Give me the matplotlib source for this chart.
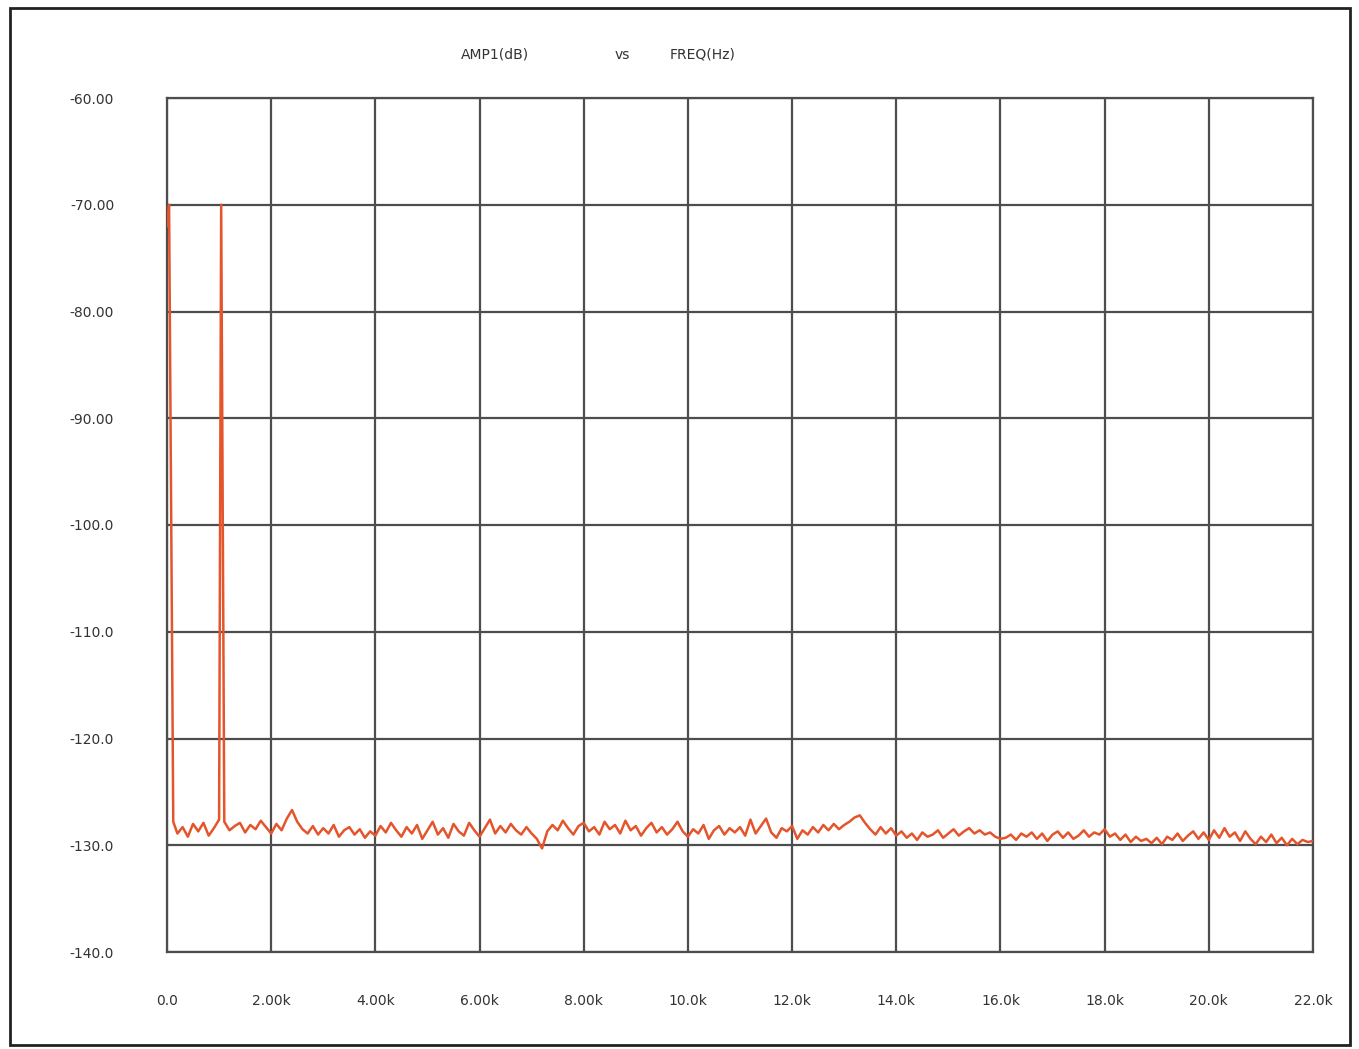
import numpy as np
import matplotlib
matplotlib.use("Agg")
import matplotlib.pyplot as plt
from matplotlib.patches import Rectangle

# ---- data ----
noise_start_hz = 200
noise_step_hz = 100
noise_db = [
    -128.9, -128.3, -129.2, -128.0, -128.7, -127.9, -129.1, -128.4,
    -127.6, -127.8, -128.6, -128.2, -127.9, -128.8, -128.1, -128.5, -127.7, -128.3,
    -128.9, -128.0, -128.6, -127.5, -126.7, -127.8, -128.5, -128.9, -128.2, -129.0,
    -128.4, -128.9, -128.1, -129.2, -128.6, -128.3, -129.0, -128.5, -129.3, -128.7,
    -129.1, -128.2, -128.8, -127.9, -128.6, -129.2, -128.3, -128.9, -128.1, -129.4,
    -128.6, -127.8, -129.0, -128.4, -129.3, -128.0, -128.7, -129.1, -127.9, -128.6,
    -129.2, -128.4, -127.6, -128.9, -128.2, -128.8, -128.0, -128.6, -129.0, -128.3,
    -128.9, -129.4, -130.3, -128.7, -128.1, -128.6, -127.7, -128.4, -129.0, -128.2,
    -127.9, -128.7, -128.3, -129.0, -127.8, -128.5, -128.1, -128.9, -127.7, -128.6,
    -128.2, -129.1, -128.4, -127.9, -128.8, -128.3, -129.0, -128.5, -127.8, -128.7,
    -129.2, -128.5, -128.9, -128.1, -129.4, -128.6, -128.2, -129.0, -128.4, -128.8,
    -128.3, -129.1, -127.6, -128.9, -128.2, -127.5, -128.8, -129.3, -128.4, -128.7,
    -128.2, -129.4, -128.6, -129.0, -128.3, -128.8, -128.1, -128.6, -128.0, -128.5,
    -128.1, -127.8, -127.4, -127.2, -127.9, -128.5, -129.0, -128.3, -128.9, -128.4,
    -129.1, -128.7, -129.3, -128.9, -129.5, -128.8, -129.2, -129.0, -128.6, -129.3,
    -128.9, -128.5, -129.1, -128.7, -128.4, -128.9, -128.6, -129.0, -128.8, -129.2,
    -129.4, -129.3, -129.0, -129.5, -128.9, -129.2, -128.8, -129.4, -128.9, -129.6,
    -129.0, -128.7, -129.3, -128.8, -129.4, -129.1, -128.6, -129.2, -128.8, -129.0,
    -128.5, -129.2, -128.9, -129.5, -129.0, -129.7, -129.2, -129.6, -129.4, -129.8,
    -129.3, -129.9, -129.2, -129.5, -128.9, -129.6, -129.1, -128.7, -129.4, -128.8,
    -129.5, -128.6, -129.3, -128.4, -129.2, -128.8, -129.6, -128.7, -129.4, -129.9,
    -129.2, -129.7, -129.0, -129.8, -129.3, -130.0, -129.4, -129.9, -129.5, -129.7,
    -129.6,
]
peak_freq_hz = [0, 40, 120, 1040]
peak_db = [-72.0, -70.0, -127.8, -70.0]

y_ticks = [-60, -70, -80, -90, -100, -110, -120, -130, -140]
y_labels = ["-60.00", "-70.00", "-80.00", "-90.00", "-100.0", "-110.0",
            "-120.0", "-130.0", "-140.0"]
x_ticks = [0, 2000, 4000, 6000, 8000, 10000, 12000, 14000, 16000, 18000, 20000, 22000]
x_labels = ["0.0", "2.00k", "4.00k", "6.00k", "8.00k", "10.0k", "12.0k",
            "14.0k", "16.0k", "18.0k", "20.0k", "22.0k"]

# ---- build series ----
noise_freq = noise_start_hz + noise_step_hz * np.arange(len(noise_db))
freq = np.concatenate([noise_freq, np.array(peak_freq_hz)])
amp = np.concatenate([np.array(noise_db), np.array(peak_db)])
order = np.argsort(freq, kind="stable")
freq, amp = freq[order], amp[order]

# ---- figure ----
fig = plt.figure(figsize=(13.59, 10.49), dpi=100)
fig.patch.set_facecolor("white")
fig.patches.append(Rectangle((10 / 1359, 1 - 1045 / 1049), 1340 / 1359, 1037 / 1049,
                             transform=fig.transFigure, fill=False,
                             edgecolor="#222222", linewidth=2.0))

ax = fig.add_axes([167 / 1359, 1 - 952 / 1049, (1313 - 167) / 1359, (952 - 98) / 1049])
ax.plot(freq, amp, color="#e4552c", linewidth=1.8, zorder=3)

ax.set_xlim(0, 22000)
ax.set_ylim(-140, -60)
ax.set_xticks(x_ticks)
ax.set_xticklabels(x_labels)
ax.set_yticks(y_ticks)
ax.set_yticklabels(y_labels)
ax.tick_params(axis="both", length=0, labelsize=10, colors="#333333")
ax.tick_params(axis="y", pad=38)
ax.tick_params(axis="x", pad=30)
ax.grid(True, color="#4d4d4d", linewidth=1.6, zorder=1)
for s in ax.spines.values():
    s.set_color("#4d4d4d")
    s.set_linewidth(1.6)

fig.text(495 / 1359, 1 - 55 / 1049, "AMP1(dB)", ha="center", va="center", fontsize=10, color="#333333")
fig.text(622 / 1359, 1 - 55 / 1049, "vs", ha="center", va="center", fontsize=10, color="#333333")
fig.text(703 / 1359, 1 - 55 / 1049, "FREQ(Hz)", ha="center", va="center", fontsize=10, color="#333333")

fig.savefig("out.png", dpi=100)
